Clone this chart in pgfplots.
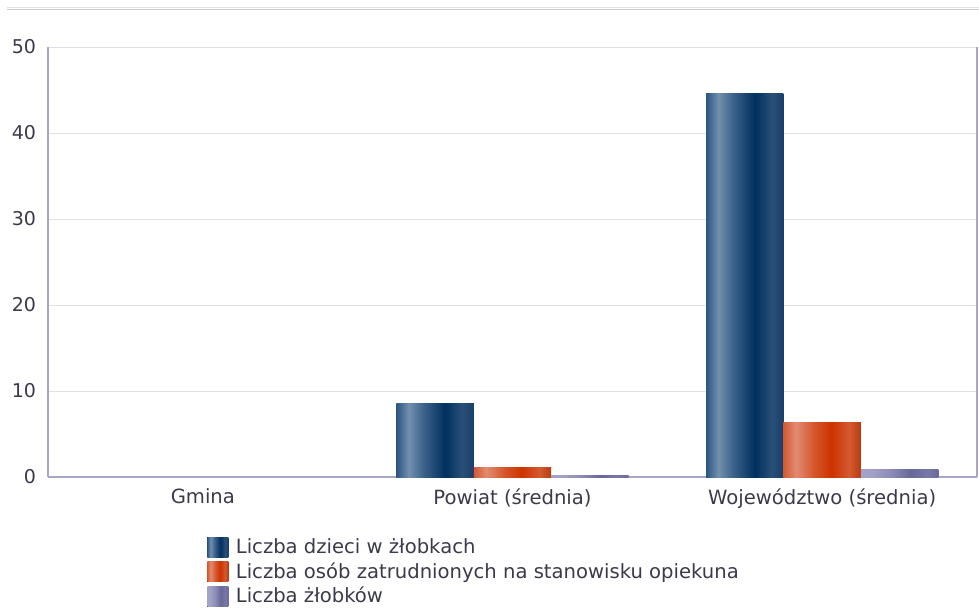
\documentclass[border=0pt]{standalone}
\usepackage{pgfplots}
\pgfplotsset{compat=1.18}
\usepackage{fontspec}
\setmainfont{DejaVu Sans}
\definecolor{textc}{HTML}{3A3A4A}
\definecolor{gridc}{HTML}{E0E0E6}
\definecolor{axisc}{HTML}{A8A6C6}
\definecolor{topa}{HTML}{E2E2E6}
\definecolor{topb}{HTML}{C8C8D6}
% blue
\definecolor{B0}{HTML}{2C5580}
\definecolor{B1}{HTML}{7390AE}
\definecolor{B2}{HTML}{3C628A}
\definecolor{B3}{HTML}{00305F}
\definecolor{B4}{HTML}{2A5078}
\definecolor{B5}{HTML}{183E6A}
% orange
\definecolor{O0}{HTML}{D45A32}
\definecolor{O1}{HTML}{E08C70}
\definecolor{O2}{HTML}{D4552A}
\definecolor{O3}{HTML}{CC3300}
\definecolor{O4}{HTML}{D45A30}
\definecolor{O5}{HTML}{B83A10}
% purple
\definecolor{P0}{HTML}{A4A4C8}
\definecolor{P1}{HTML}{A0A0C4}
\definecolor{P2}{HTML}{8A8AB6}
\definecolor{P3}{HTML}{686898}
\definecolor{P4}{HTML}{7878A8}
\definecolor{P5}{HTML}{6C6C9C}
\pgfdeclarehorizontalshading{blueshade}{100bp}{color(0bp)=(B0); color(25bp)=(B0); color(33bp)=(B1); color(42.5bp)=(B2); color(56.5bp)=(B3); color(67.5bp)=(B4); color(75bp)=(B5); color(100bp)=(B5)}
\pgfdeclarehorizontalshading{orangeshade}{100bp}{color(0bp)=(O0); color(25bp)=(O0); color(33bp)=(O1); color(45bp)=(O2); color(56bp)=(O3); color(67.5bp)=(O4); color(75bp)=(O5); color(100bp)=(O5)}
\pgfdeclarehorizontalshading{purpleshade}{100bp}{color(0bp)=(P0); color(25bp)=(P0); color(33bp)=(P1); color(45bp)=(P2); color(57bp)=(P3); color(67.5bp)=(P4); color(75bp)=(P5); color(100bp)=(P5)}
\begin{document}
\begin{tikzpicture}
\useasboundingbox (0,0) rectangle (489.5pt,303.5pt);
\draw[topa, line width=0.5pt] (3.5pt,300pt) -- (489.5pt,300pt);
\draw[topb, line width=0.5pt] (3.5pt,299pt) -- (489.5pt,299pt);
\begin{axis}[
  at={(24pt,65pt)}, anchor=south west,
  scale only axis, width=464.5pt, height=215pt,
  xmin=-0.5, xmax=2.5, ymin=0, ymax=50,
  ytick={0,10,20,30,40,50},
  xtick={0,1,2},
  xticklabels={Gmina, Powiat (średnia), Województwo (średnia)},
  axis x line*=bottom,
  ymajorgrids, grid style={color=gridc, line width=0.5pt},
  axis line style={color=axisc, line width=0.6pt, -},
  major tick length=0pt,
  tick style={draw=none},
  ticklabel style={font=\fontsize{9.8}{11}\selectfont, text=textc},
  yticklabel style={xshift=-2.5pt, font=\fontsize{9.5}{11}\selectfont},
  xticklabel style={yshift=-2.5pt},
  /pgf/number format/assume math mode=true,
  ybar, bar shift=0pt, bar width=0.25,
  legend style={at={(rel axis cs:0.171,-0.137)}, anchor=north west, draw=none, fill=none,
    inner sep=0pt, row sep=1.1pt, font=\fontsize{9.8}{11}\selectfont, text=textc,
    nodes={inner sep=1pt}},
  legend cell align=left,
  legend image code/.code={\fill[#1] (0pt,-5pt) rectangle (10.5pt,5pt); \path (13.3pt,0pt);},
]
% Powiat (średnia)
\addplot[draw=none, shading=blueshade] coordinates {(0.75,8.6)};
\addplot[draw=none, shading=orangeshade] coordinates {(1,1.15)};
\addplot[draw=none, shading=purpleshade] coordinates {(1.25,0.12)};
% Województwo (średnia)
\addplot[draw=none, shading=blueshade, forget plot] coordinates {(1.75,44.65)};
\addplot[draw=none, shading=orangeshade, forget plot] coordinates {(2,6.3)};
\addplot[draw=none, shading=purpleshade, forget plot] coordinates {(2.25,0.93)};
% Gmina: 0, 0, 0
\legend{Liczba dzieci w żłobkach, Liczba osób zatrudnionych na stanowisku opiekuna, Liczba żłobków}
\end{axis}
\end{tikzpicture}
\end{document}
